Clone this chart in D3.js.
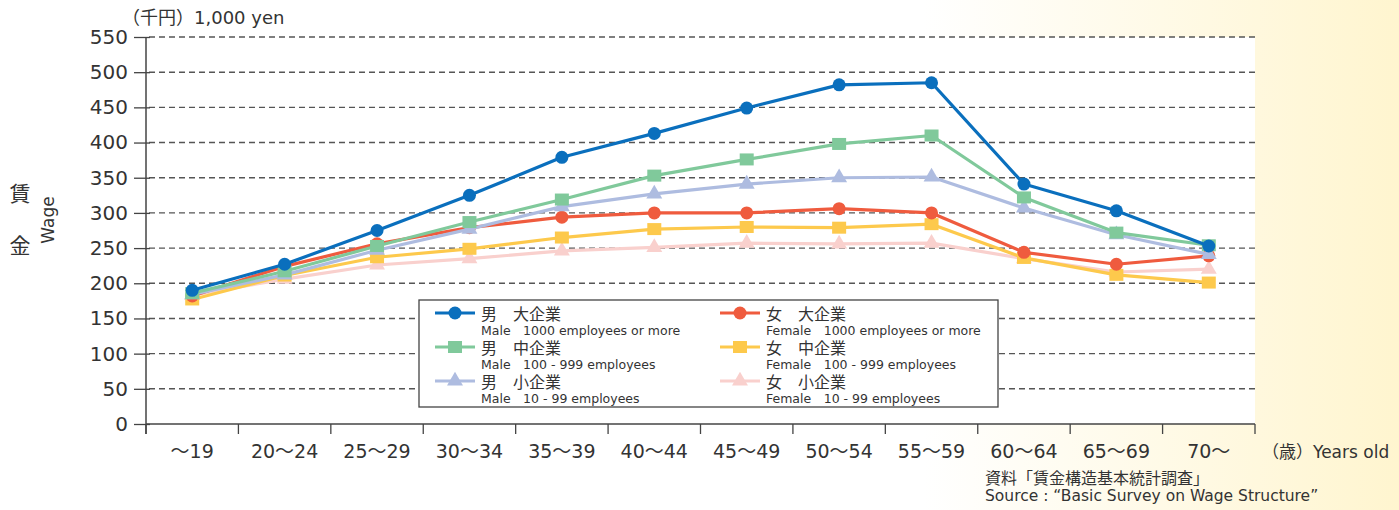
<!DOCTYPE html>
<html>
<head>
<meta charset="utf-8">
<script src="https://cdn.jsdelivr.net/npm/d3@7"></script>
<style>
  html, body { margin: 0; padding: 0; }
  body { width: 1399px; height: 510px; overflow: hidden; }
  svg text { font-family: "DejaVu Sans", "Noto Sans CJK JP", sans-serif; fill: #333; }
  .jp { font-family: "Noto Sans CJK JP", sans-serif; }
</style>
</head>
<body>
<svg id="chart" width="1399" height="510"></svg>
<script>
// ---- data ----
const categories = ["～19", "20～24", "25～29", "30～34", "35～39", "40～44", "45～49", "50～54", "55～59", "60～64", "65～69", "70～"];
const maleLarge   = [190, 227, 275, 325, 379, 413, 449, 482, 485, 341, 303, 253];
const maleMid     = [186, 217, 253, 287, 319, 353, 376, 398, 410, 322, 272, 254];
const maleSmall   = [184, 212, 247, 277, 309, 327, 341, 350, 351, 307, 269, 241];
const femaleLarge = [182, 224, 256, 279, 294, 300, 300, 306, 300, 244, 227, 239];
const femaleMid   = [177, 211, 237, 249, 265, 277, 280, 279, 284, 236, 212, 201];
const femaleSmall = [183, 206, 226, 235, 246, 251, 257, 256, 257, 235, 216, 220];
const yTicks = [0, 50, 100, 150, 200, 250, 300, 350, 400, 450, 500, 550];
const seriesNames = [
  ["男　大企業", "Male　1000 employees or more"],
  ["男　中企業", "Male　100 - 999 employees"],
  ["男　小企業", "Male　10 - 99 employees"],
  ["女　大企業", "Female　1000 employees or more"],
  ["女　中企業", "Female　100 - 999 employees"],
  ["女　小企業", "Female　10 - 99 employees"]
];

const series = [
  {name: seriesNames[0], values: maleLarge,   color: "#0a6fbd", shape: "circle"},
  {name: seriesNames[1], values: maleMid,     color: "#80c99b", shape: "square"},
  {name: seriesNames[2], values: maleSmall,   color: "#aebce0", shape: "triangle"},
  {name: seriesNames[3], values: femaleLarge, color: "#ef5b3e", shape: "circle"},
  {name: seriesNames[4], values: femaleMid,   color: "#fdc94c", shape: "square"},
  {name: seriesNames[5], values: femaleSmall, color: "#f9d0cd", shape: "triangle"}
];
const drawOrder = [5, 4, 3, 2, 1, 0];

const svg = d3.select("#chart");
const defs = svg.append("defs");
const grad = defs.append("linearGradient").attr("id", "bg").attr("x1", "0").attr("x2", "1").attr("y1", "0").attr("y2", "0");
grad.append("stop").attr("offset", "0.66").attr("stop-color", "#ffffff");
grad.append("stop").attr("offset", "1").attr("stop-color", "#fff5cf");
svg.append("rect").attr("width", 1399).attr("height", 510).attr("fill", "url(#bg)");

const pLeft = 146, pRight = 1255, pTop = 37, pBottom = 424;
const x = d3.scaleBand().domain(categories).range([pLeft, pRight]).padding(0);
const y = d3.scaleLinear().domain([0, 550]).range([pBottom, pTop]);

svg.append("rect").attr("x", pLeft).attr("y", pTop).attr("width", pRight - pLeft).attr("height", pBottom - pTop).attr("fill", "#fff");

// gridlines
svg.append("g").selectAll("line").data(yTicks.filter(d => d > 0)).join("line")
  .attr("x1", pLeft + 3).attr("x2", pRight).attr("y1", d => y(d)).attr("y2", d => y(d))
  .attr("stroke", "#555").attr("stroke-width", 1.4).attr("stroke-dasharray", "6,4");

// y axis
const yAxis = d3.axisLeft(y).tickValues(yTicks).tickSize(12).tickPadding(6);
const gy = svg.append("g").attr("transform", `translate(${pLeft},0)`).call(yAxis);
gy.select(".domain").remove();
gy.selectAll(".tick line").attr("stroke", "#444").attr("stroke-width", 1.3).attr("x2", -12).attr("x1", 4);
gy.selectAll(".tick text").attr("font-size", 20).attr("fill", "#333").attr("font-family", "DejaVu Sans");
svg.append("line").attr("x1", pLeft).attr("x2", pLeft).attr("y1", pTop).attr("y2", pBottom + 10).attr("stroke", "#444").attr("stroke-width", 1.5);

// x axis
const gx = svg.append("g").attr("transform", `translate(0,${pBottom})`);
gx.append("line").attr("x1", pLeft).attr("x2", pRight).attr("stroke", "#444").attr("stroke-width", 1.5);
const bounds = categories.map(c => x(c)).concat([pRight]);
gx.selectAll("line.tk").data(bounds).join("line").attr("class", "tk")
  .attr("x1", d => d).attr("x2", d => d).attr("y1", 0).attr("y2", 10).attr("stroke", "#444").attr("stroke-width", 1.3);
gx.selectAll("text").data(categories).join("text")
  .attr("x", d => x(d) + x.bandwidth() / 2).attr("y", 34)
  .attr("text-anchor", "middle").attr("font-size", 19).text(d => d);

// lines & markers
const line = d3.line().x((d, i) => x(categories[i]) + x.bandwidth() / 2).y(d => y(d));
function marker(g, shape, color, cx, cy, scale) {
  scale = scale || 1;
  if (shape === "circle") {
    g.append("circle").attr("cx", cx).attr("cy", cy).attr("r", 6.5 * scale).attr("fill", color);
  } else if (shape === "square") {
    g.append("rect").attr("x", cx - 7 * scale).attr("y", cy - 6 * scale).attr("width", 14 * scale).attr("height", 12 * scale).attr("fill", color);
  } else {
    g.append("path").attr("transform", `translate(${cx},${cy})`)
      .attr("d", d3.symbol().type(d3.symbolTriangle).size(110 * scale * scale)()).attr("fill", color);
  }
}
drawOrder.forEach(k => {
  const s = series[k];
  const g = svg.append("g");
  g.append("path").datum(s.values).attr("d", line).attr("fill", "none")
    .attr("stroke", s.color).attr("stroke-width", 3.2).attr("stroke-linejoin", "round");
  s.values.forEach((v, i) => marker(g, s.shape, s.color, x(categories[i]) + x.bandwidth() / 2, y(v)));
});

// legend
const lg = svg.append("g");
lg.append("rect").attr("x", 419).attr("y", 300).attr("width", 579).attr("height", 107)
  .attr("fill", "#fff").attr("stroke", "#444").attr("stroke-width", 1.3);
const colX = [435, 720];
const rowY = [313, 347, 381];
series.forEach((s, i) => {
  const cx = colX[Math.floor(i / 3)], ry = rowY[i % 3];
  lg.append("line").attr("x1", cx).attr("x2", cx + 40).attr("y1", ry).attr("y2", ry).attr("stroke", s.color).attr("stroke-width", 3.2);
  marker(lg, s.shape, s.color, cx + 20, ry, 1);
  lg.append("text").attr("x", cx + 46).attr("y", ry + 6.5).attr("font-size", 16).text(s.name[0]);
  lg.append("text").attr("x", cx + 46).attr("y", ry + 22).attr("font-size", 12.5).text(s.name[1]);
});

// titles
svg.append("text").attr("x", 122).attr("y", 24).attr("font-size", 18).text("（千円）1,000 yen");
svg.append("text").attr("class", "jp").attr("x", 20).attr("y", 201).attr("font-size", 21).attr("text-anchor", "middle").text("賃");
svg.append("text").attr("class", "jp").attr("x", 20).attr("y", 253).attr("font-size", 21).attr("text-anchor", "middle").text("金");
svg.append("text").attr("transform", "translate(54,220) rotate(-90)").attr("text-anchor", "middle").attr("font-size", 17).text("Wage");
svg.append("text").attr("x", 1262).attr("y", 458).attr("font-size", 17).text("（歳）Years old");
svg.append("text").attr("class", "jp").attr("x", 985).attr("y", 484).attr("font-size", 16).text("資料「賃金構造基本統計調査」");
svg.append("text").attr("x", 985).attr("y", 501).attr("font-size", 15.5).text("Source : “Basic Survey on Wage Structure”");
</script>
</body>
</html>
